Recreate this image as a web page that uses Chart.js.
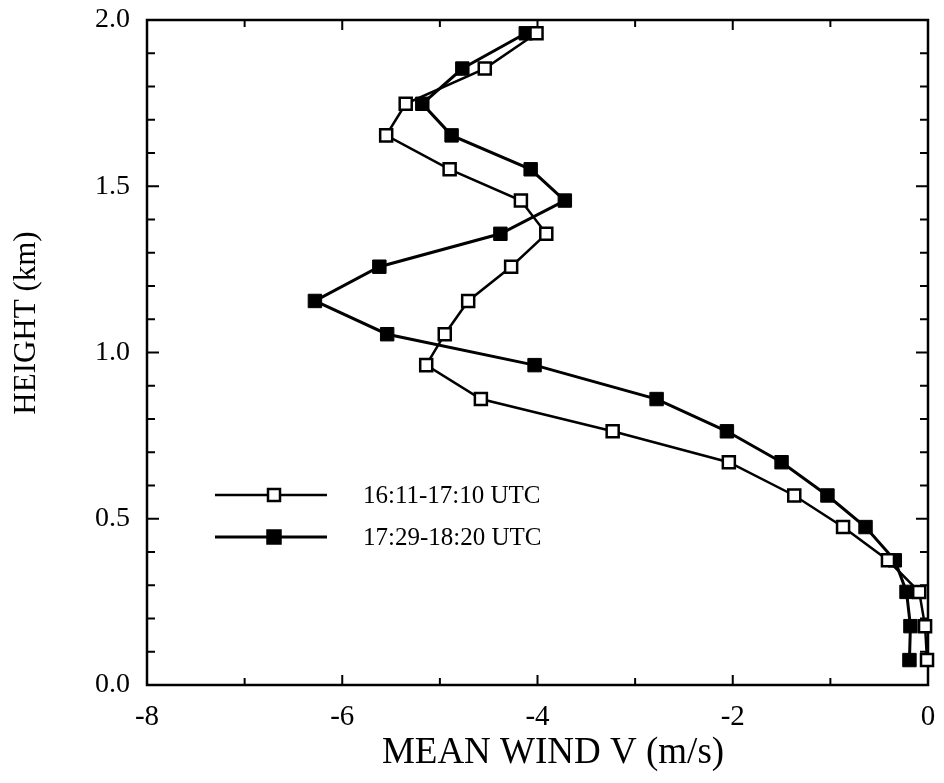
<!DOCTYPE html>
<html>
<head>
<meta charset="utf-8">
<script src="https://cdn.jsdelivr.net/npm/chart.js@4.4.1/dist/chart.umd.min.js"></script>
<style>
body { margin: 0; background: #fff; }
#wrap { width: 944px; height: 783px; }
</style>
</head>
<body>
<div id="wrap"><canvas id="myChart"></canvas></div>
<script>
// heights of the profile levels (km), bottom to top
var heights = [0.075, 0.177, 0.28, 0.375, 0.475, 0.57, 0.67, 0.763, 0.86, 0.962, 1.055, 1.155, 1.258, 1.357, 1.457, 1.551, 1.653, 1.748, 1.854, 1.96];
// mean wind V (m/s), 16:11-17:10 UTC (open squares)
var windEarly = [-0.01, -0.03, -0.09, -0.41, -0.87, -1.37, -2.04, -3.23, -4.58, -5.14, -4.95, -4.71, -4.27, -3.91, -4.17, -4.90, -5.55, -5.35, -4.54, -4.01];
// mean wind V (m/s), 17:29-18:20 UTC (filled squares)
var windLate = [-0.19, -0.18, -0.22, -0.34, -0.64, -1.03, -1.50, -2.06, -2.78, -4.03, -5.54, -6.28, -5.62, -4.38, -3.72, -4.07, -4.88, -5.18, -4.77, -4.12];

var seriesNames = ['16:11-17:10 UTC', '17:29-18:20 UTC'];
var xTickValues = [-8, -6, -4, -2, 0];
var yTickValues = [0.0, 0.5, 1.0, 1.5, 2.0];
var xTitle = 'MEAN WIND V (m/s)';
var yTitle = 'HEIGHT (km)';

var serif = '"Liberation Serif", "Times New Roman", serif';

function toPoints(winds){
    var pts = [];
    for (var i = 0; i < heights.length; i++) {
        pts.push({x: winds[i], y: heights[i]});
    }
    return pts;
}

// frame, inward ticks, axis titles and the legend box
var framePlugin = {
    id: 'frame',
    beforeDatasetsDraw: function(chart){
        var ctx = chart.ctx;
        var a = chart.chartArea;
        var xs = chart.scales.x;
        var ys = chart.scales.y;
        ctx.save();
        ctx.strokeStyle = '#000';
        ctx.lineWidth = 2.5;
        ctx.strokeRect(a.left, a.top, a.right - a.left, a.bottom - a.top);

        ctx.lineWidth = 2;
        ctx.beginPath();
        for (var v = -8; v <= 0; v++) {
            var px = xs.getPixelForValue(v);
            var len = (v % 2 == 0) ? 10 : 7;
            ctx.moveTo(px, a.bottom); ctx.lineTo(px, a.bottom - len);
            ctx.moveTo(px, a.top); ctx.lineTo(px, a.top + len);
        }
        for (var k = 0; k <= 20; k++) {
            var py = ys.getPixelForValue(k / 10);
            var len2 = (k % 5 == 0) ? 12 : 8;
            ctx.moveTo(a.left, py); ctx.lineTo(a.left + len2, py);
            ctx.moveTo(a.right, py); ctx.lineTo(a.right - len2, py);
        }
        ctx.stroke();
        ctx.restore();
    },
    afterDraw: function(chart){
        var ctx = chart.ctx;
        ctx.save();
        ctx.fillStyle = '#000';
        ctx.textAlign = 'center';
        ctx.textBaseline = 'middle';

        // axis titles
        ctx.font = '37px ' + serif;
        ctx.fillText(xTitle, 553, 753);
        ctx.save();
        ctx.translate(27, 323);
        ctx.rotate(-Math.PI / 2);
        ctx.font = '31px ' + serif;
        ctx.fillText(yTitle, 0, 0);
        ctx.restore();

        // legend
        var rows = [495, 537];
        var ds = chart.data.datasets;
        for (var i = 0; i < rows.length; i++) {
            var y = rows[i];
            ctx.strokeStyle = '#000';
            ctx.lineWidth = ds[i].borderWidth;
            ctx.beginPath();
            ctx.moveTo(215, y); ctx.lineTo(327, y);
            ctx.stroke();
            var s = (i == 0) ? 12 : 13;
            ctx.fillStyle = ds[i].pointBackgroundColor;
            ctx.fillRect(274 - s / 2, y - s / 2, s, s);
            ctx.lineWidth = 2.5;
            ctx.strokeRect(274 - s / 2, y - s / 2, s, s);
            ctx.fillStyle = '#000';
            ctx.textAlign = 'left';
            ctx.font = '25px ' + serif;
            ctx.fillText(seriesNames[i], 363, y + 1);
        }
        ctx.restore();
    }
};

var ctx = document.getElementById('myChart').getContext('2d');
var chart = new Chart(ctx, {
    type: 'scatter',
    data: {
        datasets: [{
            label: seriesNames[0],
            data: toPoints(windEarly),
            showLine: true,
            borderColor: '#000',
            borderWidth: 2.5,
            pointStyle: 'rect',
            pointRadius: 8.5,
            pointBorderWidth: 2.5,
            pointBackgroundColor: '#fff',
            pointBorderColor: '#000',
            clip: false
        }, {
            label: seriesNames[1],
            data: toPoints(windLate),
            showLine: true,
            borderColor: '#000',
            borderWidth: 3,
            pointStyle: 'rect',
            pointRadius: 9.5,
            pointBorderWidth: 1,
            pointBackgroundColor: '#000',
            pointBorderColor: '#000',
            clip: false
        }]
    },
    options: {
        responsive: true,
        maintainAspectRatio: false,
        animation: false,
        events: [],
        layout: { padding: { top: 20, right: 16, left: 0, bottom: 0 } },
        plugins: {
            legend: { display: false },
            tooltip: { enabled: false }
        },
        scales: {
            x: {
                type: 'linear',
                min: -8,
                max: 0,
                afterBuildTicks: function(scale){
                    scale.ticks = xTickValues.map(function(v){ return {value: v}; });
                },
                afterFit: function(scale){
                    scale.height = 98;
                    scale.paddingLeft = 0;
                    scale.paddingRight = 0;
                },
                grid: { display: false, drawTicks: false },
                border: { display: false },
                ticks: {
                    color: '#000',
                    padding: 15,
                    maxRotation: 0,
                    font: { family: serif, size: 29 },
                    callback: function(v){ return String(v); }
                }
            },
            y: {
                type: 'linear',
                min: 0,
                max: 2,
                afterBuildTicks: function(scale){
                    scale.ticks = yTickValues.map(function(v){ return {value: v}; });
                },
                afterFit: function(scale){
                    scale.width = 147;
                    scale.paddingTop = 0;
                    scale.paddingBottom = 0;
                },
                grid: { display: false, drawTicks: false },
                border: { display: false },
                ticks: {
                    color: '#000',
                    padding: 17,
                    font: { family: serif, size: 28 },
                    callback: function(v){ return Number(v).toFixed(1); }
                }
            }
        }
    },
    plugins: [framePlugin]
});
</script>
</body>
</html>
